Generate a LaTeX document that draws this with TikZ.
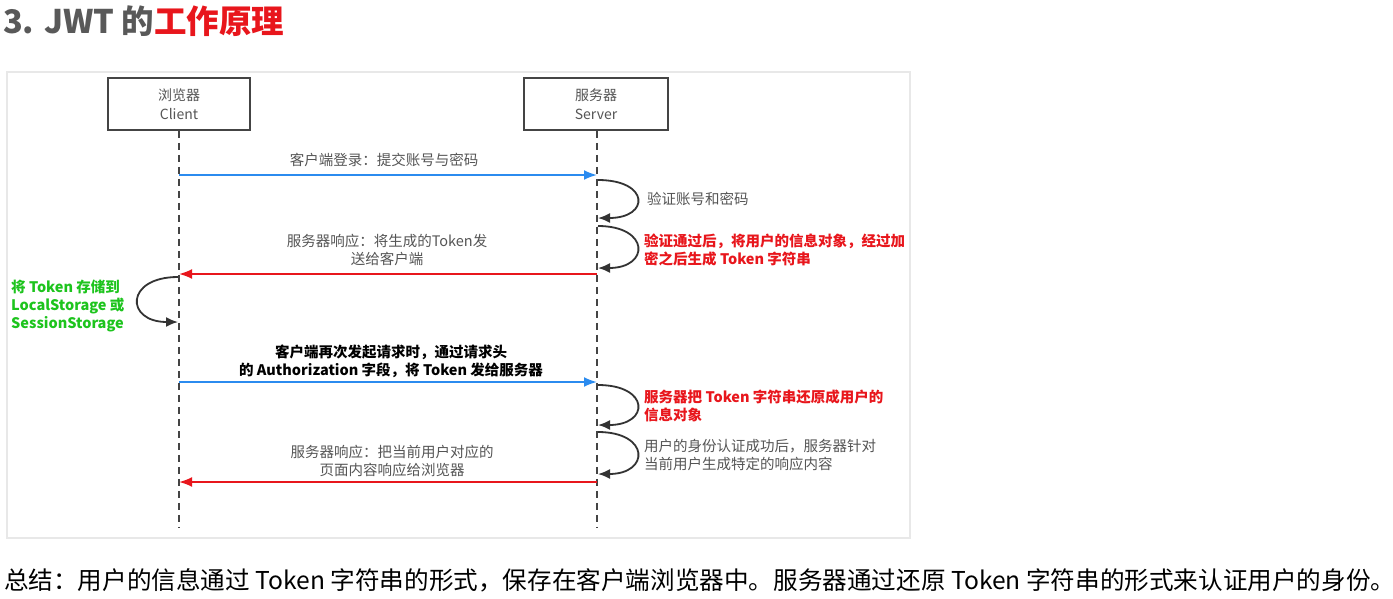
\documentclass[tikz,border=0pt]{standalone}
\usepackage{fontspec}
\setmainfont{Noto Sans CJK SC}
\usetikzlibrary{arrows.meta}
\definecolor{titlegray}{HTML}{595959}
\definecolor{jred}{HTML}{E8161C}
\definecolor{jblue}{HTML}{2B8BEF}
\definecolor{jgreen}{HTML}{1DC41D}
\definecolor{txtgray}{HTML}{555555}
\definecolor{panelline}{HTML}{E8E8E8}
\definecolor{lifegray}{HTML}{444444}
\tikzset{
  actorbox/.style={draw=lifegray, line width=1.6pt, minimum width=142pt, minimum height=52pt, align=center, text=txtgray, font=\fontsize{14pt}{19pt}\selectfont},
  lifeline/.style={draw=lifegray, line width=1.6pt, dash pattern=on 7pt off 5pt},
  msgblue/.style={draw=jblue, line width=2pt, -{Latex[length=13pt,width=10pt]}},
  msgred/.style={draw=jred, line width=2pt, -{Latex[length=13pt,width=10pt]}},
  selfloop/.style={draw=black!80, line width=1.8pt, -{Latex[length=12pt,width=10pt]}},
  lbl/.style={font=\fontsize{14.5pt}{18pt}\selectfont, inner sep=0pt, text=txtgray},
  lblcenter/.style={lbl, align=center},
  lblleft/.style={lbl, align=left, anchor=west},
  boldred/.style={text=jred, font=\fontsize{14.5pt}{18pt}\selectfont\bfseries},
}
\begin{document}
\begin{tikzpicture}[x=1pt,y=-1pt]
\useasboundingbox[fill=white] (0,0) rectangle (1393,598);
% title
\node[anchor=west, inner sep=0pt, font=\fontsize{32.5pt}{36pt}\selectfont\bfseries] (title) at (3,21)
  {\textcolor{titlegray}{3. JWT 的}\textcolor{jred}{工作原理}};
% panel
\draw[panelline, line width=1.5pt] (7,72) rectangle (910,538);
% actors
\node[actorbox] (client) at (179,104) {浏览器\\Client};
\node[actorbox, minimum width=144pt] (server) at (596,104) {服务器\\Server};
\coordinate (cend) at (179,528);
\coordinate (send) at (597,528);
\draw[lifeline] (client.south) -- (cend);
\draw[lifeline] (server.south -| send) -- (send);
% message 1
\coordinate (c1) at (179,175); \coordinate (s1) at (597,175);
\draw[msgblue] (c1) -- (s1);
\node[lblcenter] (m1) at (384,160) {客户端登录：提交账号与密码};
% loop 1
\coordinate (l1a) at (598,180); \coordinate (l1b) at (598,218);
\draw[selfloop] (l1a) .. controls (650,180) and (650,218) .. (l1b);
\node[lblleft] (t1) at (647,199) {验证账号和密码};
% loop 2
\coordinate (l2a) at (598,226); \coordinate (l2b) at (598,268);
\draw[selfloop] (l2a) .. controls (650,226) and (650,268) .. (l2b);
\node[lblleft, boldred] (t2) at (644,250) {验证通过后，将用户的信息对象，经过加\\密之后生成 Token 字符串};
% message 2
\coordinate (s2) at (597,274); \coordinate (c2) at (179,274);
\draw[msgred] (s2) -- (c2);
\node[lblcenter] (m2) at (387,250) {服务器响应：将生成的Token发\\送给客户端};
% client loop
\coordinate (cla) at (178,277); \coordinate (clb) at (178,322);
\draw[selfloop] (cla) .. controls (125,277) and (125,322) .. (clb);
\node[lblleft, text=jgreen, font=\fontsize{14.5pt}{18pt}\selectfont\bfseries] (store) at (11,306) {将 Token 存储到\\LocalStorage 或\\SessionStorage};
% message 3
\coordinate (c3) at (179,382); \coordinate (s3) at (597,382);
\draw[msgblue] (c3) -- (s3);
\node[lblcenter, text=black, font=\fontsize{14.5pt}{18pt}\selectfont\bfseries] (m3) at (391,361) {客户端再次发起请求时，通过请求头\\的 Authorization 字段，将 Token 发给服务器};
% loop 3
\coordinate (l3a) at (598,385); \coordinate (l3b) at (598,425);
\draw[selfloop] (l3a) .. controls (650,385) and (650,425) .. (l3b);
\node[lblleft, boldred] (t3) at (644,406) {服务器把 Token 字符串还原成用户的\\信息对象};
% loop 4
\coordinate (l4a) at (598,432); \coordinate (l4b) at (598,474);
\draw[selfloop] (l4a) .. controls (650,432) and (650,474) .. (l4b);
\node[lblleft] (t4) at (644,455) {用户的身份认证成功后，服务器针对\\当前用户生成特定的响应内容};
% message 4
\coordinate (s4) at (597,482); \coordinate (c4) at (179,482);
\draw[msgred] (s4) -- (c4);
\node[lblcenter] (m4) at (392,461) {服务器响应：把当前用户对应的\\页面内容响应给浏览器};
% summary
\node[anchor=west, inner sep=0pt, text=black, font=\fontsize{24.6pt}{28pt}\selectfont] (summary) at (4,580)
  {总结：用户的信息通过 Token 字符串的形式，保存在客户端浏览器中。服务器通过还原 Token 字符串的形式来认证用户的身份。};
\end{tikzpicture}
\end{document}
